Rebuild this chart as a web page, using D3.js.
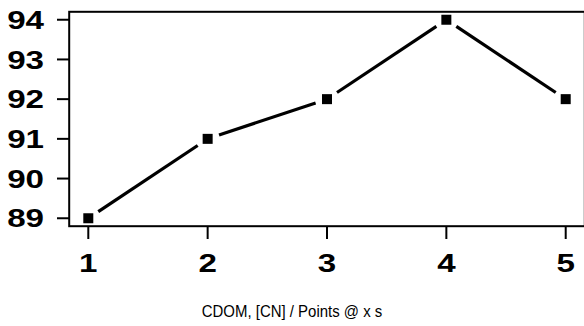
<!DOCTYPE html>
<html><head><meta charset="utf-8">
<script src="https://cdn.jsdelivr.net/npm/d3@7"></script>
<style>html,body{margin:0;padding:0;background:#fff;overflow:hidden}</style>
</head><body>
<script>
const xValues = [1, 2, 3, 4, 5];
const yValues = [89, 91, 92, 94, 92];
const xTicks = [1, 2, 3, 4, 5];
const yTicks = [89, 90, 91, 92, 93, 94];
const xLabel = "CDOM, [CN] / Points @ x s";

const W = 584, H = 326;
const svg = d3.select("body").append("svg").attr("width", W).attr("height", H);

const x = d3.scaleLinear().domain([0.84, 5.16]).range([69.2, 584.8]);
const y = d3.scaleLinear().domain([88.8, 94.2]).range([226.2, 11.8]);

// box
svg.append("rect").attr("x", x(0.84)).attr("y", y(94.2))
  .attr("width", x(5.16) - x(0.84)).attr("height", y(88.8) - y(94.2))
  .attr("fill", "none").attr("stroke", "#000").attr("stroke-width", 2);

const sx = 1.3;
const fs = "25.5px";
// y axis
const yAxis = svg.append("g");
yTicks.forEach(t => {
  yAxis.append("line").attr("x1", 57).attr("x2", x(0.84)).attr("y1", y(t)).attr("y2", y(t))
    .attr("stroke", "#000").attr("stroke-width", 2);
  yAxis.append("text").attr("transform", `translate(44,${y(t)}) scale(${sx},1)`)
    .attr("text-anchor", "end").attr("dy", "0.36em")
    .style("font-family", "Liberation Sans, Arial, sans-serif").style("font-weight", "bold")
    .style("font-size", fs).text(t);
});
// x axis
const xAxis = svg.append("g");
xTicks.forEach(t => {
  xAxis.append("line").attr("x1", x(t)).attr("x2", x(t)).attr("y1", y(88.8)).attr("y2", 239)
    .attr("stroke", "#000").attr("stroke-width", 2);
  xAxis.append("text").attr("transform", `translate(${x(t)},272) scale(${sx},1)`)
    .attr("text-anchor", "middle")
    .style("font-family", "Liberation Sans, Arial, sans-serif").style("font-weight", "bold")
    .style("font-size", fs).text(t);
});

// line segments with gaps (type="b")
const gap = 12;
const pts = xValues.map((v, i) => [x(v), y(yValues[i])]);
for (let i = 0; i < pts.length - 1; i++) {
  const [x0, y0] = pts[i], [x1, y1] = pts[i + 1];
  const dx = x1 - x0, dy = y1 - y0, L = Math.hypot(dx, dy);
  const ux = dx / L, uy = dy / L;
  svg.append("line")
    .attr("x1", x0 + ux * gap).attr("y1", y0 + uy * gap)
    .attr("x2", x1 - ux * gap).attr("y2", y1 - uy * gap)
    .attr("stroke", "#000").attr("stroke-width", 3.2);
}
svg.selectAll("rect.pt").data(xValues).enter().append("rect").attr("class", "pt")
  .attr("x", (d) => x(d) - 5).attr("y", (d, i) => y(yValues[i]) - 5)
  .attr("width", 10).attr("height", 10).attr("fill", "#000");

svg.append("text").attr("transform", "translate(292,317) scale(0.88,1)").attr("text-anchor", "middle")
  .style("font-family", "Liberation Sans, Arial, sans-serif").style("font-size", "17px")
  .text(xLabel);
</script>
</body></html>
